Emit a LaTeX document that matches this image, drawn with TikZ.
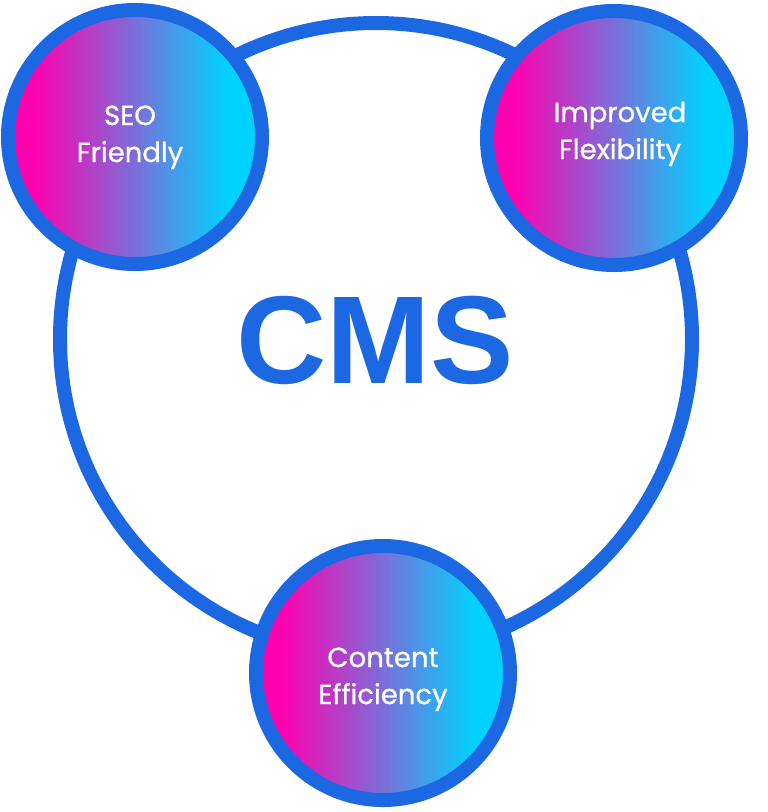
\documentclass[tikz,border=0pt]{standalone}
\usepackage{fontspec}
\setmainfont{Liberation Sans}
\newfontfamily\popfont{Poppins}[FakeBold=0.8]
\newfontfamily\cmsfont{Liberation Sans}
\definecolor{cmsblue}{HTML}{1C68E2}
\definecolor{gmag}{HTML}{FF00AE}
\definecolor{gmid}{HTML}{7A6FD9}
\definecolor{gcyan}{HTML}{00D2FF}
\pgfdeclarehorizontalshading{cmsgrad}{100bp}{color(0bp)=(gmag); color(30bp)=(gmag); color(50bp)=(gmid); color(68bp)=(gcyan); color(100bp)=(gcyan)}
\begin{document}
\begin{tikzpicture}[x=1pt,y=-1pt,
  hubring/.style={draw=cmsblue,line width=14pt,circle,minimum size=632pt,inner sep=0pt},
  bubble/.style={draw=cmsblue,line width=14pt,circle,minimum size=254pt,inner sep=0pt,
     shading=cmsgrad},
  bubtext/.style={text=white,align=center,inner sep=0pt,anchor=base,
     font=\popfont\fontsize{27.5}{37}\selectfont},
  bigtext/.style={text=cmsblue,inner sep=0pt,font=\cmsfont\bfseries\fontsize{125}{125}\selectfont}]
\useasboundingbox (0,0) rectangle (768,812);
\node[hubring] (hub) at (376,339) {};
\node[bigtext,anchor=base] (cms) at (375,383) {CMS};
\node[bubble] (seo) at (135,137) {};
\node[bubble] (flex) at (614,138) {};
\node[bubble] (cont) at (383,673) {};
\node[bubtext] (seot) at (130,162) {SEO\\Friendly};
\node[bubtext] (flext) at (620,159) {Improved\\Flexibility};
\node[bubtext] (contt) at (383,704) {Content\\Efficiency};
\end{tikzpicture}
\end{document}
